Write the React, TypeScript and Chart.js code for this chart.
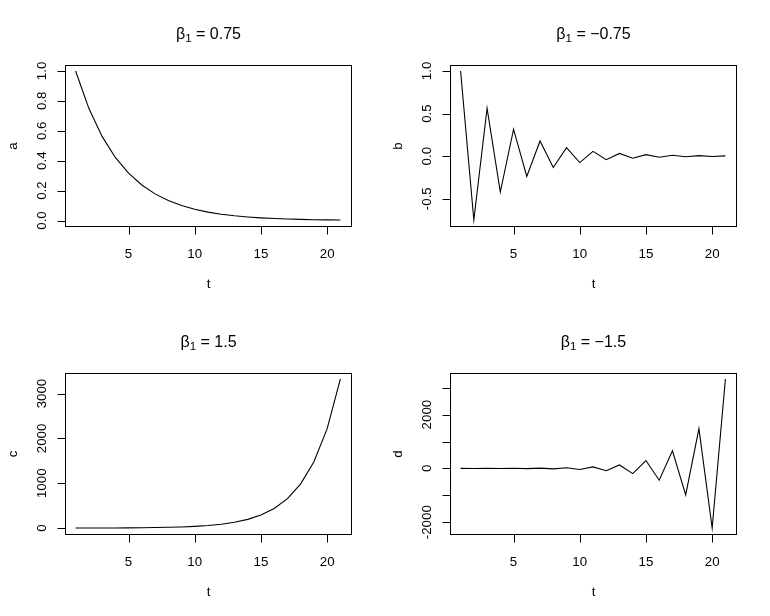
import React, { useEffect, useRef } from "react";
import { Chart, registerables } from "chart.js";

Chart.register(...registerables);

// ---- data ----
const T = [1, 2, 3, 4, 5, 6, 7, 8, 9, 10, 11, 12, 13, 14, 15, 16, 17, 18, 19, 20, 21];
const A = [1, 0.75, 0.5625, 0.4219, 0.3164, 0.2373, 0.178, 0.1335, 0.1001, 0.0751, 0.0563, 0.0422, 0.0317, 0.0238, 0.0178, 0.0134, 0.01, 0.0075, 0.0056, 0.0042, 0.0032];
const B = [1, -0.75, 0.5625, -0.4219, 0.3164, -0.2373, 0.178, -0.1335, 0.1001, -0.0751, 0.0563, -0.0422, 0.0317, -0.0238, 0.0178, -0.0134, 0.01, -0.0075, 0.0056, -0.0042, 0.0032];
const C = [1, 1.5, 2.3, 3.4, 5.1, 7.6, 11.4, 17.1, 25.6, 38.4, 57.7, 86.5, 129.7, 194.6, 291.9, 437.9, 656.8, 985.3, 1477.9, 2216.8, 3325.3];
const D = [1, -1.5, 2.3, -3.4, 5.1, -7.6, 11.4, -17.1, 25.6, -38.4, 57.7, -86.5, 129.7, -194.6, 291.9, -437.9, 656.8, -985.3, 1477.9, -2216.8, 3325.3];

const X_TICKS = [5, 10, 15, 20];
const X_TICK_LABELS = ["5", "10", "15", "20"];

const A_TICKS = [0, 0.2, 0.4, 0.6, 0.8, 1.0];
const A_TICK_LABELS = ["0.0", "0.2", "0.4", "0.6", "0.8", "1.0"];
const B_TICKS = [-0.5, 0, 0.5, 1.0];
const B_TICK_LABELS = ["-0.5", "0.0", "0.5", "1.0"];
const C_TICKS = [0, 1000, 2000, 3000];
const C_TICK_LABELS = ["0", "1000", "2000", "3000"];
const D_TICKS = [-2000, -1000, 0, 1000, 2000, 3000];
const D_TICK_LABELS = ["-2000", "", "0", "", "2000", ""];

const X_NAME = "t";
const Y_NAMES = ["a", "b", "c", "d"];
const BETA_VALUES = ["0.75", "\u22120.75", "1.5", "\u22121.5"];

const FONT = '"Liberation Sans", Arial, Helvetica, sans-serif';

function rRange(vals: number[]): [number, number] {
  const lo = Math.min(...vals);
  const hi = Math.max(...vals);
  const d = (hi - lo) * 0.04;
  return [lo - d, hi + d];
}

const rAxesPlugin = {
  id: "rAxes",
  afterDraw(chart: any, _args: any, opts: any) {
    const { ctx, chartArea: ca, scales } = chart;
    const x = scales.x;
    const y = scales.y;
    ctx.save();
    ctx.strokeStyle = "#000";
    ctx.fillStyle = "#000";
    ctx.lineWidth = 1;
    const L = Math.round(ca.left) + 0.5;
    const R = Math.round(ca.right) + 0.5;
    const Tp = Math.round(ca.top) + 0.5;
    const Bt = Math.round(ca.bottom) + 0.5;
    // box
    ctx.strokeRect(L, Tp, R - L, Bt - Tp);
    const tickLen = 8;
    // x axis
    ctx.beginPath();
    const x0 = Math.round(x.getPixelForValue(opts.xTicks[0])) + 0.5;
    const x1 = Math.round(x.getPixelForValue(opts.xTicks[opts.xTicks.length - 1])) + 0.5;
    ctx.moveTo(x0, Bt);
    ctx.lineTo(x1, Bt);
    opts.xTicks.forEach((v: number) => {
      const px = Math.round(x.getPixelForValue(v)) + 0.5;
      ctx.moveTo(px, Bt);
      ctx.lineTo(px, Bt + tickLen);
    });
    ctx.stroke();
    ctx.font = `13.3px ${FONT}`;
    ctx.textAlign = "center";
    ctx.textBaseline = "alphabetic";
    opts.xTicks.forEach((v: number, i: number) => {
      ctx.fillText(opts.xLabels[i], x.getPixelForValue(v), Bt + 31);
    });
    // x name
    ctx.fillText(opts.xName, (L + R) / 2, Bt + 61);
    // y axis
    ctx.beginPath();
    const y0 = Math.round(y.getPixelForValue(opts.yTicks[0])) + 0.5;
    const y1 = Math.round(y.getPixelForValue(opts.yTicks[opts.yTicks.length - 1])) + 0.5;
    ctx.moveTo(L, y0);
    ctx.lineTo(L, y1);
    opts.yTicks.forEach((v: number) => {
      const py = Math.round(y.getPixelForValue(v)) + 0.5;
      ctx.moveTo(L, py);
      ctx.lineTo(L - tickLen, py);
    });
    ctx.stroke();
    opts.yTicks.forEach((v: number, i: number) => {
      const lab = opts.yLabels[i];
      if (!lab) return;
      ctx.save();
      ctx.translate(L - 19.5, y.getPixelForValue(v));
      ctx.rotate(-Math.PI / 2);
      ctx.textAlign = "center";
      ctx.fillText(lab, 0, 0);
      ctx.restore();
    });
    // y name
    ctx.save();
    ctx.translate(L - 49, (Tp + Bt) / 2);
    ctx.rotate(-Math.PI / 2);
    ctx.textAlign = "center";
    ctx.fillText(opts.yName, 0, 0);
    ctx.restore();
    // title: beta_1 = value
    const big = `16px ${FONT}`;
    const small = `11.5px ${FONT}`;
    const p1 = "\u03B2";
    const p2 = "1";
    const p3 = " = " + opts.beta;
    ctx.font = big;
    const w1 = ctx.measureText(p1).width;
    const w3 = ctx.measureText(p3).width;
    ctx.font = small;
    const w2 = ctx.measureText(p2).width;
    const total = w1 + w2 + w3;
    let cx = (L + R) / 2 - total / 2;
    const base = Tp - 27;
    ctx.textAlign = "left";
    ctx.font = big;
    ctx.fillText(p1, cx, base);
    cx += w1;
    ctx.font = small;
    ctx.fillText(p2, cx, base + 3.5);
    cx += w2;
    ctx.font = big;
    ctx.fillText(p3, cx, base);
    ctx.restore();
  },
};

type PanelProps = {
  ys: number[];
  yTicks: number[];
  yLabels: string[];
  yName: string;
  beta: string;
  left: number;
  top: number;
};

function Panel({ ys, yTicks, yLabels, yName, beta, left, top }: PanelProps) {
  const ref = useRef<HTMLCanvasElement | null>(null);
  useEffect(() => {
    if (!ref.current) return;
    const [xmin, xmax] = rRange(T);
    const [ymin, ymax] = rRange(ys);
    const chart = new Chart(ref.current, {
      type: "line",
      data: {
        datasets: [
          {
            data: T.map((t, i) => ({ x: t, y: ys[i] })),
            borderColor: "#000",
            borderWidth: 1.1,
            pointRadius: 0,
            tension: 0,
            fill: false,
          },
        ],
      },
      options: {
        animation: false,
        responsive: false,
        devicePixelRatio: 1,
        layout: { padding: { left: 65, right: 34, top: 65, bottom: 82 } },
        scales: {
          x: { type: "linear", min: xmin, max: xmax, display: false },
          y: { type: "linear", min: ymin, max: ymax, display: false },
        },
        plugins: {
          legend: { display: false },
          tooltip: { enabled: false },
          title: { display: false },
          rAxes: {
            xTicks: X_TICKS,
            xLabels: X_TICK_LABELS,
            xName: X_NAME,
            yTicks,
            yLabels,
            yName,
            beta,
          },
        } as any,
      },
      plugins: [rAxesPlugin],
    } as any);
    return () => chart.destroy();
  }, []);
  return (
    <canvas
      ref={ref}
      width={385}
      height={308}
      style={{ position: "absolute", left, top, width: 385, height: 308, display: "block" }}
    />
  );
}

export default function App() {
  useEffect(() => {
    document.body.style.margin = "0";
  }, []);
  return (
    <div style={{ position: "fixed", left: 0, top: 0, width: 770, height: 616, background: "#fff" }}>
      <Panel ys={A} yTicks={A_TICKS} yLabels={A_TICK_LABELS} yName={Y_NAMES[0]} beta={BETA_VALUES[0]} left={0} top={0} />
      <Panel ys={B} yTicks={B_TICKS} yLabels={B_TICK_LABELS} yName={Y_NAMES[1]} beta={BETA_VALUES[1]} left={385} top={0} />
      <Panel ys={C} yTicks={C_TICKS} yLabels={C_TICK_LABELS} yName={Y_NAMES[2]} beta={BETA_VALUES[2]} left={0} top={308} />
      <Panel ys={D} yTicks={D_TICKS} yLabels={D_TICK_LABELS} yName={Y_NAMES[3]} beta={BETA_VALUES[3]} left={385} top={308} />
    </div>
  );
}
